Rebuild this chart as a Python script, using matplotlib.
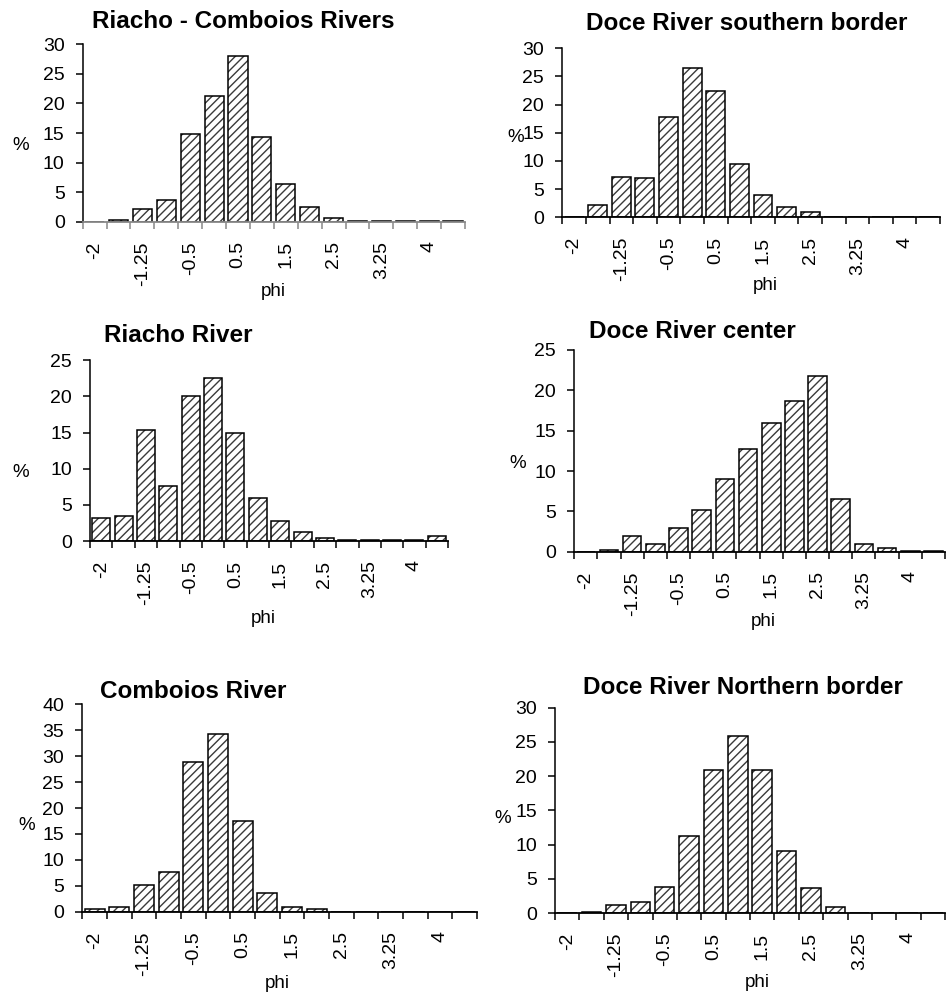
import matplotlib
matplotlib.use('Agg')
import matplotlib.pyplot as plt
import numpy as np

plt.rcParams['font.family'] = ['Liberation Sans', 'DejaVu Sans']
plt.rcParams['hatch.linewidth'] = 1.0

W, H = 949, 996

# phi classes (only every other one is labelled on the axis)
PHI = ['-2', '-1.5', '-1.25', '-1', '-0.5', '0', '0.5', '1',
       '1.5', '2', '2.5', '3', '3.25', '3.5', '4', '4.5']

riacho_comboios = [0.0, 0.3, 2.1, 3.7, 14.9, 21.3, 28.1, 14.4,
                   6.3, 2.5, 0.6, 0.2, 0.2, 0.2, 0.2, 0.2]
doce_south = [0.05, 2.2, 7.2, 6.9, 17.75, 26.5, 22.4, 9.5,
              3.9, 1.9, 0.9, 0.05, 0.05, 0.05, 0.0, 0.0]
riacho = [3.2, 3.5, 15.3, 7.6, 20.0, 22.6, 15.0, 6.0,
          2.8, 1.3, 0.4, 0.2, 0.2, 0.2, 0.2, 0.65]
doce_center = [0.0, 0.2, 1.9, 0.9, 2.9, 5.2, 9.05, 12.7,
               16.0, 18.7, 21.8, 6.5, 0.9, 0.4, 0.05, 0.05]
comboios = [0.45, 1.0, 5.1, 7.6, 28.9, 34.3, 17.4, 3.7,
            1.0, 0.45, 0.0, 0.0, 0.0, 0.0, 0.0, 0.0]
doce_north = [0.0, 0.1, 1.2, 1.6, 3.85, 11.2, 20.9, 25.9,
              20.9, 9.1, 3.65, 0.9, 0.05, 0.05, 0.05, 0.0]

# (title, values, ymax, axes box in px: x0, x1, ytop, ybot, title xy, % xy, phi xy)
panels = [
    ('Riacho - Comboios Rivers', riacho_comboios, 30,
     (82.7, 465, 44.3, 221.7), (243, 22), (21, 145), (273, 292)),
    ('Doce River southern border', doce_south, 30,
     (562.3, 940, 48.3, 217.3), (747, 24), (516, 137), (765, 285)),
    ('Riacho River', riacho, 25,
     (90, 448, 360.3, 541), (178, 335), (21, 472), (263, 618)),
    ('Doce River center', doce_center, 25,
     (574.3, 945, 350, 551.7), (692, 332), (518, 463), (763, 622)),
    ('Comboios River', comboios, 40,
     (82.3, 477, 704.3, 911.7), (193, 692), (27, 825), (277, 983)),
    ('Doce River Northern border', doce_north, 30,
     (555, 945, 707.7, 913), (743, 687), (503, 818), (757, 982)),
]

fig = plt.figure(figsize=(W / 100, H / 100), dpi=100)


def ftext(x, y, s, **kw):
    fig.text(x / W, 1 - y / H, s, ha='center', va='center', **kw)


x = np.arange(len(PHI))
for i, (title, vals, ymax, box, tpos, ppos, phipos) in enumerate(panels):
    x0, x1, yt, yb = box
    ax = fig.add_axes([x0 / W, 1 - yb / H, (x1 - x0) / W, (yb - yt) / H])
    ax.bar(x, vals, width=0.8, color='white', edgecolor='#3a3a3a',
           hatch='////', linewidth=0)
    ax.bar(x, vals, width=0.8, fill=False, edgecolor='black', linewidth=1.1)
    ax.set_xlim(-0.5, len(PHI) - 0.5)
    ax.set_ylim(0, ymax)
    ax.set_yticks(np.arange(0, ymax + 1, 5))
    ax.set_xticks(x[::2])
    ax.set_xticklabels(PHI[::2], rotation=90, va='top', ha='center')
    ax.set_xticks(np.arange(len(PHI) + 1) - 0.5, minor=True)
    ax.tick_params(axis='x', which='major', length=0, pad=14, labelsize=14)
    ax.tick_params(axis='x', which='minor', length=5, width=1.1, direction='out')
    ax.tick_params(axis='y', length=5, width=1.1, pad=8, labelsize=14)
    for side in ('top', 'right'):
        ax.spines[side].set_visible(False)
    ax.spines['left'].set_linewidth(1.1)
    ax.spines['bottom'].set_linewidth(1.3)
    if i == 0:
        ax.spines['bottom'].set_color('#888888')
        ax.tick_params(axis='x', which='minor', color='#888888')
    ax.set_facecolor('none')
    ftext(*tpos, title, fontsize=17.5, fontweight='bold')
    ftext(*ppos, '%', fontsize=13.5)
    ftext(*phipos, 'phi', fontsize=13.5)

fig.savefig('out.png', dpi=100)
